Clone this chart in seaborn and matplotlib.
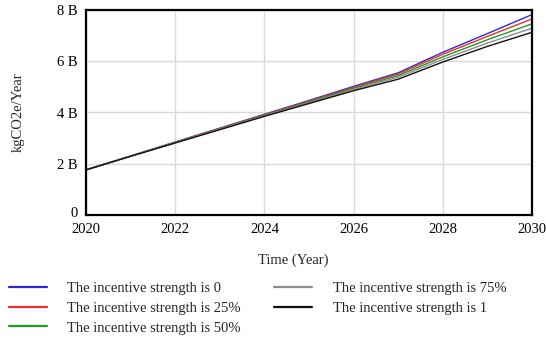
import numpy as np
import pandas as pd
import matplotlib
matplotlib.use("Agg")
import matplotlib.pyplot as plt
import matplotlib.transforms as mtransforms
import seaborn as sns

years = list(range(2020, 2031))
scenarios = [
    "The incentive strength is 0",
    "The incentive strength is 25%",
    "The incentive strength is 50%",
    "The incentive strength is 75%",
    "The incentive strength is 1",
]
# emissions in billions of kgCO2e per year
s_0 = [1.76, 2.30, 2.85, 3.39, 3.93, 4.47, 5.02, 5.55, 6.35, 7.08, 7.82]
s_25 = [1.76, 2.30, 2.84, 3.38, 3.91, 4.44, 4.98, 5.50, 6.27, 6.97, 7.65]
s_50 = [1.76, 2.30, 2.83, 3.36, 3.89, 4.41, 4.94, 5.44, 6.17, 6.84, 7.46]
s_75 = [1.76, 2.30, 2.82, 3.35, 3.87, 4.38, 4.90, 5.38, 6.07, 6.71, 7.29]
s_1 = [1.76, 2.29, 2.81, 3.33, 3.85, 4.35, 4.85, 5.30, 5.97, 6.58, 7.13]
colors = ["#2b2bd6", "#ee2b2b", "#1f9a1f", "#8c8c8c", "#111111"]

series = [s_0, s_25, s_50, s_75, s_1]
df = pd.concat(
    [pd.DataFrame({"Year": years, "Value": np.array(v) * 1e9, "Scenario": name})
     for name, v in zip(scenarios, series)],
    ignore_index=True,
)

sns.set_style("white")
plt.rcParams["font.family"] = ["Liberation Serif", "DejaVu Serif"]
FS = 10.5
plt.rcParams["font.size"] = FS

fig = plt.figure(figsize=(5.46, 3.37), dpi=100)
ax = fig.add_axes([86 / 546, 1 - 215 / 337, (532 - 86) / 546, (215 - 10) / 337])

sns.lineplot(data=df, x="Year", y="Value", hue="Scenario", hue_order=scenarios,
             palette=colors, linewidth=1.0, ax=ax, legend=True)

ax.set_xlim(2020, 2030)
ax.set_ylim(0, 8e9)
ax.set_xticks(range(2020, 2031, 2))
ax.set_yticks([0, 2e9, 4e9, 6e9, 8e9])
ax.set_yticklabels(["0", "2 B", "4 B", "6 B", "8 B"])
ax.grid(True, color="#d9d9d9", linewidth=1.0)
ax.set_axisbelow(True)
for sp in ax.spines.values():
    sp.set_color("black")
    sp.set_linewidth(1.6)
ax.tick_params(axis="x", length=0, pad=6, labelsize=FS, colors="black")
ax.tick_params(axis="y", length=0, pad=6, labelsize=FS, colors="black")
# lift the zero label a few pixels so it clears the year labels
zero = ax.get_yticklabels()[0]
zero.set_transform(zero.get_transform() +
                   mtransforms.ScaledTranslation(0, 3 / 100, fig.dpi_scale_trans))
ax.set_xlabel("")
ax.set_ylabel("")

fig.text(293 / 546, 1 - 260 / 337, "Time (Year)", ha="center", va="center", fontsize=FS)
fig.text(18 / 546, 1 - 112 / 337, "kgCO2e/Year", ha="center", va="center",
         rotation=90, fontsize=FS)

handles, labels = ax.get_legend_handles_labels()
ax.get_legend().remove()
for h in handles:
    h.set_linewidth(1.6)
fig.legend(handles, labels, ncol=2, loc="upper left",
           bbox_to_anchor=(3 / 546, 1 - 276 / 337), frameon=False,
           handlelength=2.6, handletextpad=1.4, columnspacing=2.3,
           labelspacing=0.45, fontsize=FS, borderaxespad=0, borderpad=0.4)

fig.savefig("out.png", dpi=100)
